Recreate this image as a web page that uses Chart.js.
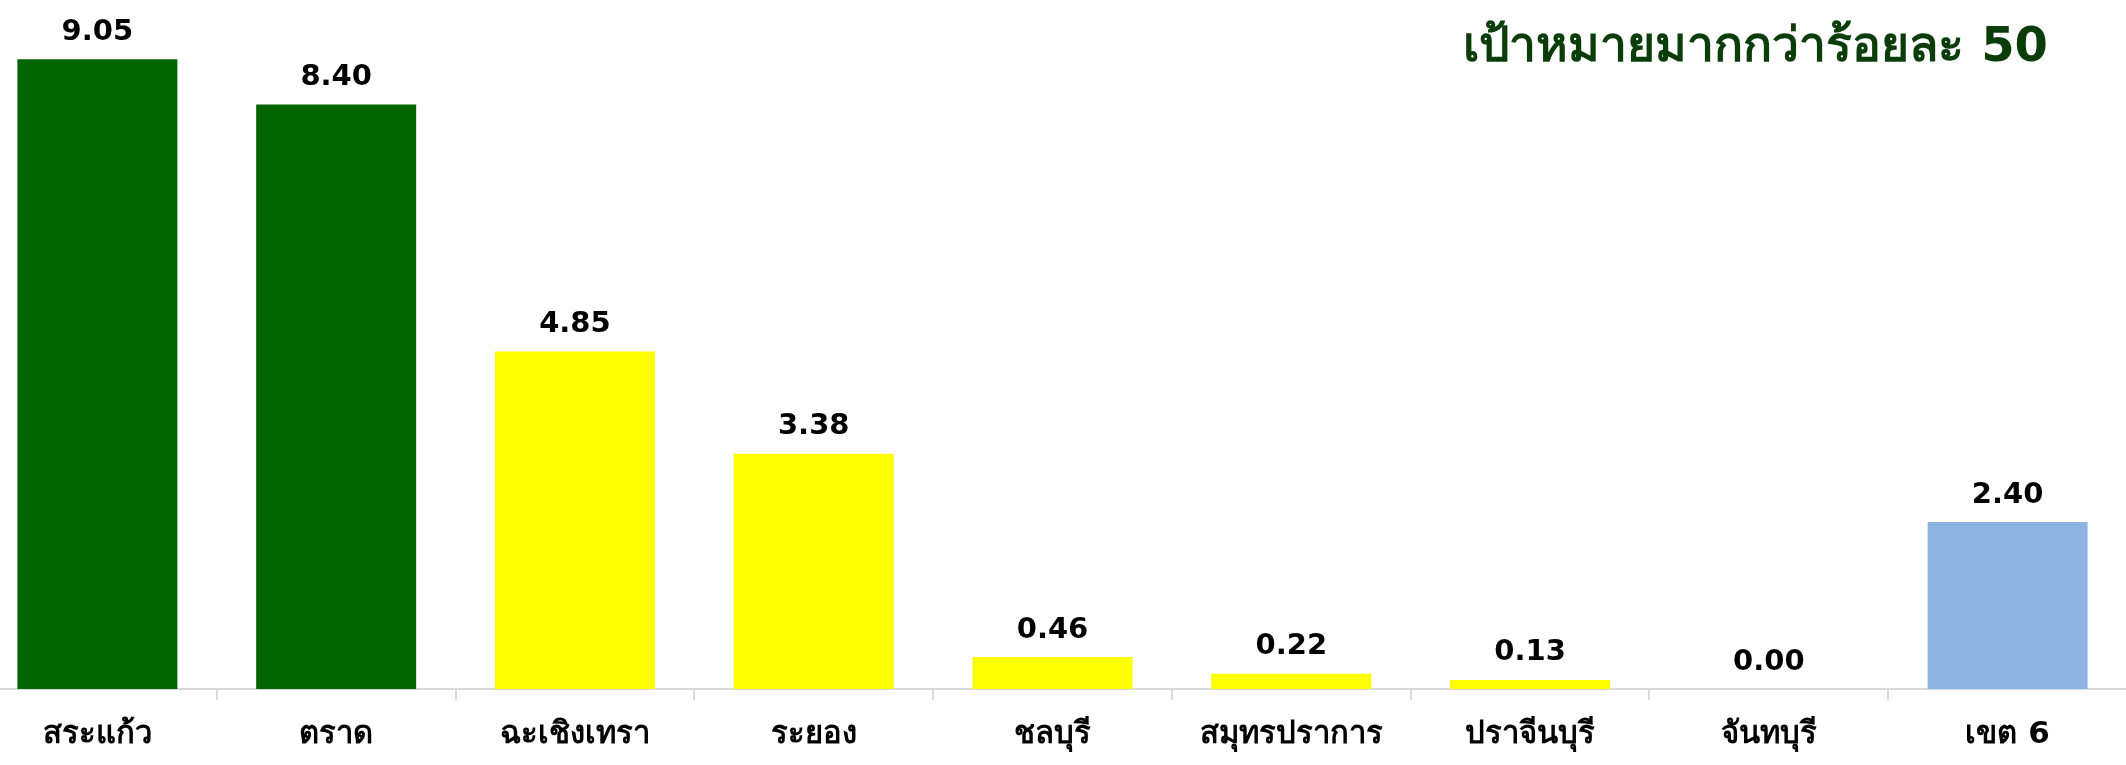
<!DOCTYPE html>
<html>
<head>
<meta charset="utf-8">
<script src="https://cdn.jsdelivr.net/npm/chart.js@4"></script>
<style>
    html, body { margin: 0; padding: 0; background: #fff; overflow: hidden; }
    body { width: 2126px; height: 765px; position: relative; }
    #wrap { position: absolute; left: -22px; top: 0; width: 2149px; height: 765px; }
    #title {
        position: absolute; right: 78px; top: 6px;
        font-family: "DejaVu Sans", sans-serif; font-weight: bold; font-size: 48px;
        color: #0a3d0a; white-space: nowrap;
    }
</style>
</head>
<body>
<div id="wrap"><canvas id="chart"></canvas></div>
<div id="title">เป้าหมายมากกว่าร้อยละ 50</div>
<script>
const provinces = ['สระแก้ว', 'ตราด', 'ฉะเชิงเทรา', 'ระยอง', 'ชลบุรี', 'สมุทรปราการ', 'ปราจีนบุรี', 'จันทบุรี', 'เขต 6'];
const scores = [9.05, 8.40, 4.85, 3.38, 0.46, 0.22, 0.13, 0.00, 2.40];
const barColors = ['#006400', '#006400', '#ffff00', '#ffff00', '#ffff00', '#ffff00', '#ffff00', '#ffff00', '#8eb4e3'];

// ป้ายค่าบนแท่ง
const valueLabels = {
    id: 'valueLabels',
    afterDatasetsDraw(chart) {
        const ctx = chart.ctx;
        const meta = chart.getDatasetMeta(0);
        ctx.save();
        ctx.font = 'bold 29px "DejaVu Sans", sans-serif';
        ctx.fillStyle = '#000';
        ctx.textAlign = 'center';
        ctx.textBaseline = 'middle';
        meta.data.forEach((bar, i) => {
            ctx.fillText(scores[i].toFixed(2), bar.x, bar.y - 27);
        });
        ctx.restore();
    }
};

new Chart(document.getElementById('chart'), {
    type: 'bar',
    data: {
        labels: provinces,
        datasets: [{
            data: scores,
            backgroundColor: barColors,
            categoryPercentage: 1,
            barPercentage: 0.67
        }]
    },
    options: {
        responsive: true,
        maintainAspectRatio: false,
        devicePixelRatio: 1,
        animation: false,
        layout: { padding: 0 },
        plugins: {
            legend: { display: false },
            tooltip: { enabled: false }
        },
        scales: {
            x: {
                grid: {
                    offset: true,
                    drawOnChartArea: false,
                    drawTicks: true,
                    tickLength: 11,
                    color: '#d9d9d9',
                    lineWidth: 2
                },
                border: { color: '#d9d9d9', width: 2 },
                ticks: {
                    color: '#000',
                    padding: 16,
                    font: { family: '"DejaVu Sans", sans-serif', weight: 'bold', size: 31 }
                },
                afterFit: s => { s.height = 76; }
            },
            y: {
                display: false,
                min: 0,
                max: 9.9
            }
        }
    },
    plugins: [valueLabels]
});
</script>
</body>
</html>
